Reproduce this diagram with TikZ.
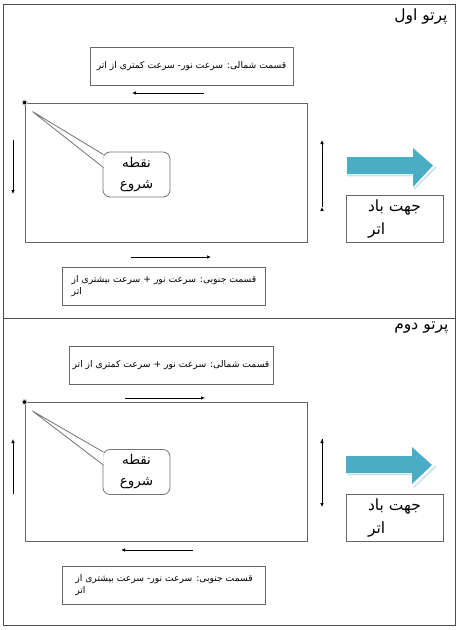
\documentclass[tikz,border=0pt]{standalone}
\usepackage{fontspec}
\newfontfamily\fa[Script=Arabic]{DejaVu Sans}
\TeXXeTstate=1
\usetikzlibrary{positioning,calc,arrows.meta}

\begin{document}
\begin{tikzpicture}[x=1pt,y=-1pt,
    ring/.style={draw=black!60,line width=0.9pt,inner sep=0pt,minimum width=282pt,minimum height=139pt},
    note/.style={draw=black!60,line width=0.9pt,fill=white,inner sep=0pt,minimum width=203pt,minimum height=38pt,align=left,font=\fa\fontsize{9.2}{12}\selectfont},
    windbox/.style={draw=black!60,line width=0.9pt,inner sep=0pt,minimum width=97pt,minimum height=47pt,align=left,font=\fa\fontsize{15.5}{23}\selectfont},
    startbox/.style={draw=black!55,line width=0.8pt,fill=white,rounded corners=7pt,inner sep=0pt,minimum width=67pt,minimum height=45pt,align=center,font=\fa\fontsize{13.5}{21}\selectfont},
    vertex/.style={circle,fill=black,draw=black!20,line width=1.2pt,inner sep=0pt,minimum size=5pt},
    flow/.style={draw,line width=0.7pt,-{Latex[length=4pt,width=3.5pt]}},
    wind/.style={fill={rgb,255:red,75;green,172;blue,198}},
    shade/.style={draw={rgb,255:red,200;green,224;blue,232},line width=1.5pt},
    title/.style={anchor=east,font=\fa\fontsize{15.5}{17}\selectfont}]
    \useasboundingbox (0,0) rectangle (459,630);
    \draw[black!70,line width=0.9pt] (3,4) rectangle (455,625);
    \draw[black!70,line width=0.9pt] (3,318) -- (455,318);

    % first beam
    \node[title] (head1) at (451,16) {\beginR پرتو اول\endR};
    \node[ring] (ring1) at (166,172.5) {};
    \node[note] (north1) at (191.5,66) {\beginR قسمت شمالی: سرعت نور- سرعت کمتری از اتر\endR};
    \node[note] (south1) at (164,286) {\beginR قسمت جنوبی: سرعت نور + سرعت بیشتری از\endR\\\beginR اتر\endR};
    \node[windbox] (air1) at (394.5,218.5) {\beginR جهت باد\endR\\\beginR اتر\endR};
    \node[startbox] (start1) at (136.5,174.5) {نقطه\\شروع};
    \node[vertex] (dot1) at (ring1.north west) {};
    \coordinate (tip1) at ($(dot1)+(8,9)$);
    \path[draw=black!55,line width=0.8pt,fill=white]
        ($(start1.north west)+(0.9,3)$) -- (tip1) -- ($(start1.north west)+(0.9,16)$);
    \coordinate (n1a) at (204,93);  \coordinate (n1b) at (132,93);
    \coordinate (s1a) at (131,257); \coordinate (s1b) at (211,257);
    \coordinate (w1a) at (13,140);  \coordinate (w1b) at (13,194);
    \coordinate (e1a) at (322,207); \coordinate (e1b) at (322,140);
    \path[flow]
        (n1a) edge (n1b)
        (s1a) edge (s1b)
        (w1a) edge (w1b)
        (e1a) edge (e1b);
    \draw[shade] (347,175.5) -- (412,175.5) (436,167) -- (414,189);
    \path[wind] (347,157) -- (413,157) -- (413,148) -- (433,165.5)
        -- (413,187) -- (413,174) -- (347,174) -- cycle;

    % second beam
    \node[title] (head2) at (452,328) {\beginR پرتو دوم\endR};
    \node[ring] (ring2) at (166,472) {};
    \node[note,minimum width=204pt] (north2) at (171,365.5) {\beginR قسمت شمالی: سرعت نور + سرعت کمتری از اتر\endR};
    \node[note] (south2) at (164,585.5) {\beginR قسمت جنوبی: سرعت نور- سرعت بیشتری از\endR\\\beginR اتر\endR};
    \node[windbox] (air2) at (394.5,517.5) {\beginR جهت باد\endR\\\beginR اتر\endR};
    \node[startbox] (start2) at (136.5,472) {نقطه\\شروع};
    \node[vertex] (dot2) at (ring2.north west) {};
    \coordinate (tip2) at ($(dot2)+(8,9)$);
    \path[draw=black!55,line width=0.8pt,fill=white]
        ($(start2.north west)+(0.9,3)$) -- (tip2) -- ($(start2.north west)+(0.9,16)$);
    \coordinate (n2a) at (125,398); \coordinate (n2b) at (205,398);
    \coordinate (s2a) at (193,550); \coordinate (s2b) at (121,550);
    \coordinate (w2a) at (13,494);  \coordinate (w2b) at (13,439);
    \coordinate (e2a) at (322,439); \coordinate (e2b) at (322,507);
    \path[flow]
        (n2a) edge (n2b)
        (s2a) edge (s2b)
        (w2a) edge (w2b)
        (e2a) edge (e2b);
    \draw[shade] (347,474.5) -- (412,474.5) (436,466) -- (414,487);
    \path[wind] (346,456) -- (412,456) -- (412,447) -- (432,465)
        -- (412,484) -- (412,473) -- (346,473) -- cycle;
\end{tikzpicture}
\end{document}
